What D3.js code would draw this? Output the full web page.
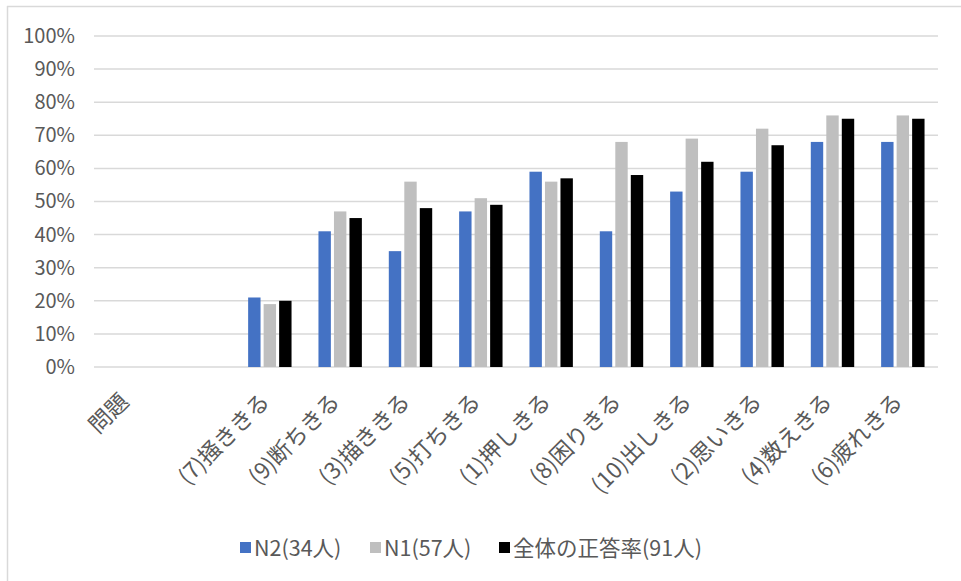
<!DOCTYPE html>
<html lang="ja">
<head>
<meta charset="utf-8">
<title>正答率</title>
<script src="https://d3js.org/d3.v7.min.js"></script>
<style>
    body { margin: 0; background: #fff; }
    text { font-family: "Noto Sans CJK JP", "Noto Sans", sans-serif; fill: #595959; }
</style>
</head>
<body>
<div id="chart"></div>
<script>
    // categories (first two have no bars)
    var categories = ["問題", "", "(7)掻ききる", "(9)断ちきる", "(3)描ききる", "(5)打ちきる",
        "(1)押しきる", "(8)困りきる", "(10)出しきる", "(2)思いきる", "(4)数えきる", "(6)疲れきる"];
    var seriesNames = ["N2(34人)", "N1(57人)", "全体の正答率(91人)"];
    var seriesColors = ["#4472C4", "#BFBFBF", "#000000"];
    var n2 = [null, null, 21, 41, 35, 47, 59, 41, 53, 59, 68, 68];
    var n1 = [null, null, 19, 47, 56, 51, 56, 68, 69, 72, 76, 76];
    var total = [null, null, 20, 45, 48, 49, 57, 58, 62, 67, 75, 75];
    var yTicks = [0, 10, 20, 30, 40, 50, 60, 70, 80, 90, 100];

    var w = 961, h = 581;
    var plotLeft = 94, plotRight = 938, plotTop = 36, plotBottom = 367;

    var svg = d3.select("#chart").append("svg")
        .attr("width", w)
        .attr("height", h);

    // chart frame (only top and left edges are visible)
    svg.append("line").attr("x1", 7).attr("x2", w).attr("y1", 6.5).attr("y2", 6.5)
        .attr("stroke", "#d9d9d9").attr("stroke-width", 1.5);
    svg.append("line").attr("x1", 7.5).attr("x2", 7.5).attr("y1", 6).attr("y2", h)
        .attr("stroke", "#d9d9d9").attr("stroke-width", 1.5);

    var x = d3.scaleBand().domain(categories).range([plotLeft, plotRight]);
    var y = d3.scaleLinear().domain([0, 100]).range([plotBottom, plotTop]);

    var groupW = 46.5;
    var xs = d3.scaleBand().domain(d3.range(3))
        .range([(x.bandwidth() - groupW) / 2, (x.bandwidth() + groupW) / 2])
        .paddingInner(0.2).paddingOuter(0.1);

    // gridlines
    svg.append("g").selectAll("line").data(yTicks).enter().append("line")
        .attr("x1", plotLeft).attr("x2", plotRight)
        .attr("y1", function (d) { return y(d); })
        .attr("y2", function (d) { return y(d); })
        .attr("stroke", "#d9d9d9").attr("stroke-width", 1.5);

    // y labels
    var yAxis = d3.axisLeft(y).tickValues(yTicks)
        .tickFormat(function (d) { return d + "%"; })
        .tickSize(0).tickPadding(19);
    var gy = svg.append("g").attr("transform", "translate(" + plotLeft + ",0)").call(yAxis);
    gy.select(".domain").remove();
    gy.selectAll("text").style("font-size", "20px").attr("fill", "#595959")
        .style("font-family", "'Noto Sans CJK JP', sans-serif");

    // bars
    var series = [n2, n1, total];
    series.forEach(function (vals, si) {
        svg.append("g").selectAll("rect")
            .data(categories.map(function (c, i) { return {cat: c, v: vals[i]}; })
                .filter(function (d) { return d.v !== null; }))
            .enter().append("rect")
            .attr("x", function (d) { return x(d.cat) + xs(si); })
            .attr("width", xs.bandwidth())
            .attr("y", function (d) { return y(d.v); })
            .attr("height", function (d) { return y(0) - y(d.v); })
            .attr("fill", seriesColors[si]);
    });

    // category labels
    svg.append("g").selectAll("text").data(categories).enter().append("text")
        .attr("transform", function (d) {
            return "translate(" + (x(d) + x.bandwidth() / 2 + 1) + "," + (plotBottom + 36) + ") rotate(-45)";
        })
        .attr("text-anchor", "end")
        .style("font-size", "22.5px")
        .text(function (d) { return d; });

    // legend
    var legendX = [240, 370, 499];
    var lg = svg.append("g").selectAll("g").data(seriesNames).enter().append("g")
        .attr("transform", function (d, i) { return "translate(" + legendX[i] + ",548)"; });
    lg.append("rect").attr("x", 0).attr("y", -6).attr("width", 11).attr("height", 11)
        .attr("fill", function (d, i) { return seriesColors[i]; });
    lg.append("text").attr("x", 14).attr("dy", "0.35em")
        .style("font-size", "21.5px")
        .text(function (d) { return d; });
</script>
</body>
</html>
